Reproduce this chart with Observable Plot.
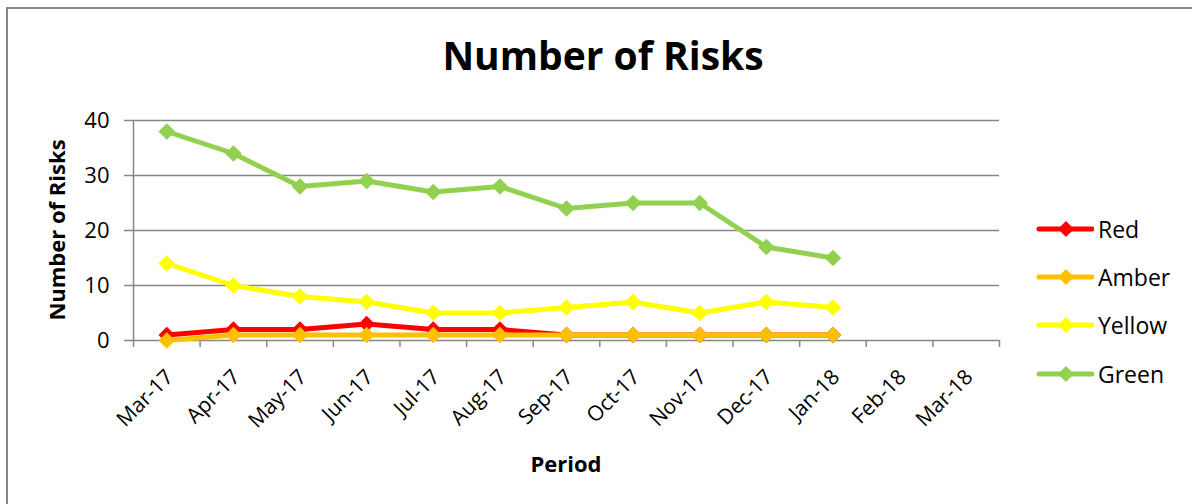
<!DOCTYPE html>
<html>
<head>
<meta charset="utf-8">
<script src="https://cdn.jsdelivr.net/npm/d3@7"></script>
<script src="https://cdn.jsdelivr.net/npm/@observablehq/plot@0.6"></script>
<style>
html,body{margin:0;padding:0;background:#fff;overflow:hidden;width:1192px;height:504px;}
#wrap{position:relative;width:1192px;height:504px;font-family:"Open Sans",sans-serif;color:#000;overflow:hidden;}
#border{position:absolute;left:6px;top:7px;width:1400px;height:700px;border-top:2px solid #878787;border-left:2px solid #878787;}
#chart{position:absolute;left:0;top:0;}
#chart g[aria-label="y-axis tick label"], #chart g[aria-label="y-axis tick label"] text{font-size:22px !important;}
#chart g[aria-label="x-axis tick label"], #chart g[aria-label="x-axis tick label"] text{font-size:21px !important;}
#title{position:absolute;left:603px;top:35px;transform:translateX(-50%);font-size:39px;font-weight:bold;line-height:1;white-space:nowrap;}
#ylabel{position:absolute;left:56px;top:230px;transform:translate(-50%,-50%) rotate(-90deg);font-size:22px;font-weight:bold;line-height:1;white-space:nowrap;}
#xlabel{position:absolute;left:566px;top:452px;transform:translateX(-50%);font-size:22px;font-weight:bold;line-height:1;white-space:nowrap;}
#legend{position:absolute;left:1036px;top:0;}
.item{position:absolute;left:0;display:flex;align-items:center;white-space:nowrap;font-size:23px;line-height:1;}
.item svg{display:block;margin-right:4px;}
</style>
</head>
<body>
<div id="wrap">
  <div id="border"></div>
  <div id="chart"></div>
  <div id="title">Number of Risks</div>
  <div id="ylabel">Number of Risks</div>
  <div id="xlabel">Period</div>
  <div id="legend"></div>
</div>
<script>
const months = ["Mar-17","Apr-17","May-17","Jun-17","Jul-17","Aug-17","Sep-17","Oct-17","Nov-17","Dec-17","Jan-18","Feb-18","Mar-18"];
const seriesNames = ["Red","Amber","Yellow","Green"];
const seriesColors = ["#ff0000","#ffc000","#ffff00","#92d050"];
const red = [1,2,2,3,2,2,1,1,1,1,1];
const amber = [0,1,1,1,1,1,1,1,1,1,1];
const yellow = [14,10,8,7,5,5,6,7,5,7,6];
const green = [38,34,28,29,27,28,24,25,25,17,15];
const yTicks = [0,10,20,30,40];

const seriesValues = [red, amber, yellow, green];
const rows = seriesValues.flatMap((vals, s) =>
  vals.map((v, i) => ({series: seriesNames[s], i, month: months[i], value: v})));

const gray = "#878787";
const marks = [
  Plot.gridY(yTicks.filter(t => t > 0), {stroke: gray, strokeOpacity: 1, strokeWidth: 1.5}),
  Plot.axisY({ticks: yTicks, tickSize: 9, tickPadding: 15, stroke: gray, strokeWidth: 1.5, label: null}),
  Plot.axisX({ticks: d3.range(months.length + 1).map(k => k - 0.5), tickFormat: () => "", tickSize: 7, stroke: gray, strokeWidth: 1.5, label: null}),
  Plot.axisX({ticks: d3.range(months.length), tickFormat: i => months[i], tickRotate: -45, tickSize: 0, tickPadding: 33, dx: 3, label: null}),
  Plot.ruleY([0], {stroke: gray, strokeWidth: 1.5}),
  Plot.ruleX([-0.5], {stroke: gray, strokeWidth: 1.5}),
  ...seriesNames.flatMap((name, s) => {
    const d = rows.filter(r => r.series === name);
    return [
      Plot.line(d, {x: "i", y: "value", stroke: seriesColors[s], strokeWidth: 5}),
      Plot.dot(d, {x: "i", y: "value", symbol: "diamond2", r: 7.5, fill: seriesColors[s], stroke: "none"})
    ];
  })
];

const chart = Plot.plot({
  width: 1192,
  height: 504,
  marginLeft: 133,
  marginRight: 193,
  marginTop: 120,
  marginBottom: 164,
  x: {type: "linear", domain: [-0.5, months.length - 0.5]},
  y: {domain: [0, 40]},
  style: {fontFamily: "'Open Sans', sans-serif", fontSize: "20px", color: "#000", background: "transparent", overflow: "visible"},
  marks
});
document.getElementById("chart").appendChild(chart);

const legend = document.getElementById("legend");
const legendY = [229, 277, 325, 374];
seriesNames.forEach((name, s) => {
  const item = document.createElement("div");
  item.className = "item";
  item.style.top = (legendY[s] - 12) + "px";
  item.innerHTML = `<svg width="58" height="24"><line x1="3" y1="12" x2="56" y2="12" stroke="${seriesColors[s]}" stroke-width="5" stroke-linecap="round"/><path d="M30 4 L38 12 L30 20 L22 12 Z" fill="${seriesColors[s]}"/></svg><span>${name}</span>`;
  legend.appendChild(item);
});
</script>
</body>
</html>
